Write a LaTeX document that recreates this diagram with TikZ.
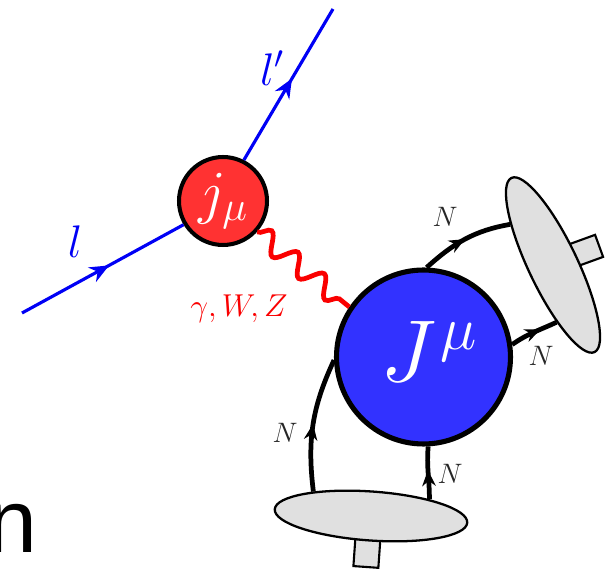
\documentclass[tikz,border=0pt]{standalone}
\usepackage{fix-cm}
\usepackage{fontspec}
\usepackage{xcolor}
\usepackage{tikz}
\usetikzlibrary{arrows.meta,decorations.markings,decorations.pathmorphing,shapes.geometric}
\newfontfamily\letterfont{Liberation Sans}
\definecolor{lepblue}{RGB}{0,0,245}
\definecolor{vtxred}{RGB}{255,50,50}
\definecolor{hadblue}{RGB}{50,50,255}
\definecolor{wavered}{RGB}{250,0,0}
\definecolor{nucgray}{RGB}{224,224,224}
\tikzset{
    fsz/.style={font=\fontsize{#1}{#1}\selectfont},
    arrowat/.style 2 args={postaction={decorate,decoration={markings,
        mark=at position #1 with {\arrow{Stealth[length=#2,width=#2*0.85]}}}}},
    lepline/.style={lepblue,line width=1.8pt},
    nucline/.style={black,line width=2.7pt},
    blob/.style={circle,draw=black,inner sep=0pt,text=white},
    nucleus/.style={ellipse,draw=black,fill=nucgray,line width=1.3pt,
        minimum width=3.86cm,minimum height=0.98cm,inner sep=0pt},
    stem/.style={rectangle,draw=black,fill=nucgray,line width=1.2pt,
        minimum width=0.5cm,minimum height=0.64cm,inner sep=0pt},
}

\begin{document}
\begin{tikzpicture}[x=0.02cm,y=-0.02cm]
    \useasboundingbox (0,0) rectangle (609,570);
    \node[stem,rotate=-4] (sbot) at (367,551) {};
    \node[stem,rotate=20,minimum width=0.6cm,minimum height=0.47cm] (sright) at (585,251) {};
    \node[nucleus,rotate=-4] (pbot) at (371,516) {};
    \node[nucleus,rotate=-64.5] (pright) at (553,265) {};
    \node[blob,fill=vtxred,line width=2.3pt,minimum size=1.76cm,fsz=34] (jlep) at (223,201) {$j_\mu$};
    \node[blob,fill=hadblue,line width=2.9pt,minimum size=3.48cm,fsz=50] (Jhad) at (423.5,357) {};
    \node[text=white,fsz=50,inner sep=0pt] (Jtext) at (429,351) {$J^{\hspace{2pt}\mu}$};
    \coordinate (lin) at (22,313);
    \coordinate (lout) at (333,9);
    \draw[lepline,arrowat={0.54}{11pt}] (lin) -- (jlep.211);
    \draw[lepline,arrowat={0.54}{11pt}] (jlep.63) -- (lout);
    \draw[wavered,line width=2.7pt,decorate,
        decoration={snake,amplitude=2mm,segment length=6.8mm}] (jlep.-42) -- (Jhad.146);
    \draw[nucline,arrowat={0.5}{9pt}] (pbot.161) to[out=97,in=245] (Jhad.182);
    \draw[nucline,arrowat={0.55}{9pt}] (pbot.20) to[out=90,in=-95] (Jhad.-87);
    \draw[nucline,arrowat={0.5}{9pt}] (Jhad.88) to[out=42,in=190] (pright.201);
    \draw[nucline,arrowat={0.65}{9pt}] (Jhad.8) to[out=35,in=205] (pright.-22);
    \node[lepblue,fsz=26] (labl) at (75,242) {$l$};
    \node[lepblue,fsz=26] (lablp) at (272,68) {$l'$};
    \node[wavered,fsz=18] (labv) at (239,309) {$\gamma,W,Z$};
    \node[fsz=16,black!85] (n1) at (445,217) {$N$};
    \node[fsz=16,black!85] (n2) at (541,356) {$N$};
    \node[fsz=16,black!85] (n3) at (285,433) {$N$};
    \node[fsz=16,black!85] (n4) at (450,474) {$N$};
    \node[fsz=51,anchor=base west,inner sep=0pt] (letter) at (-13,553) {\letterfont n};
\end{tikzpicture}
\end{document}
